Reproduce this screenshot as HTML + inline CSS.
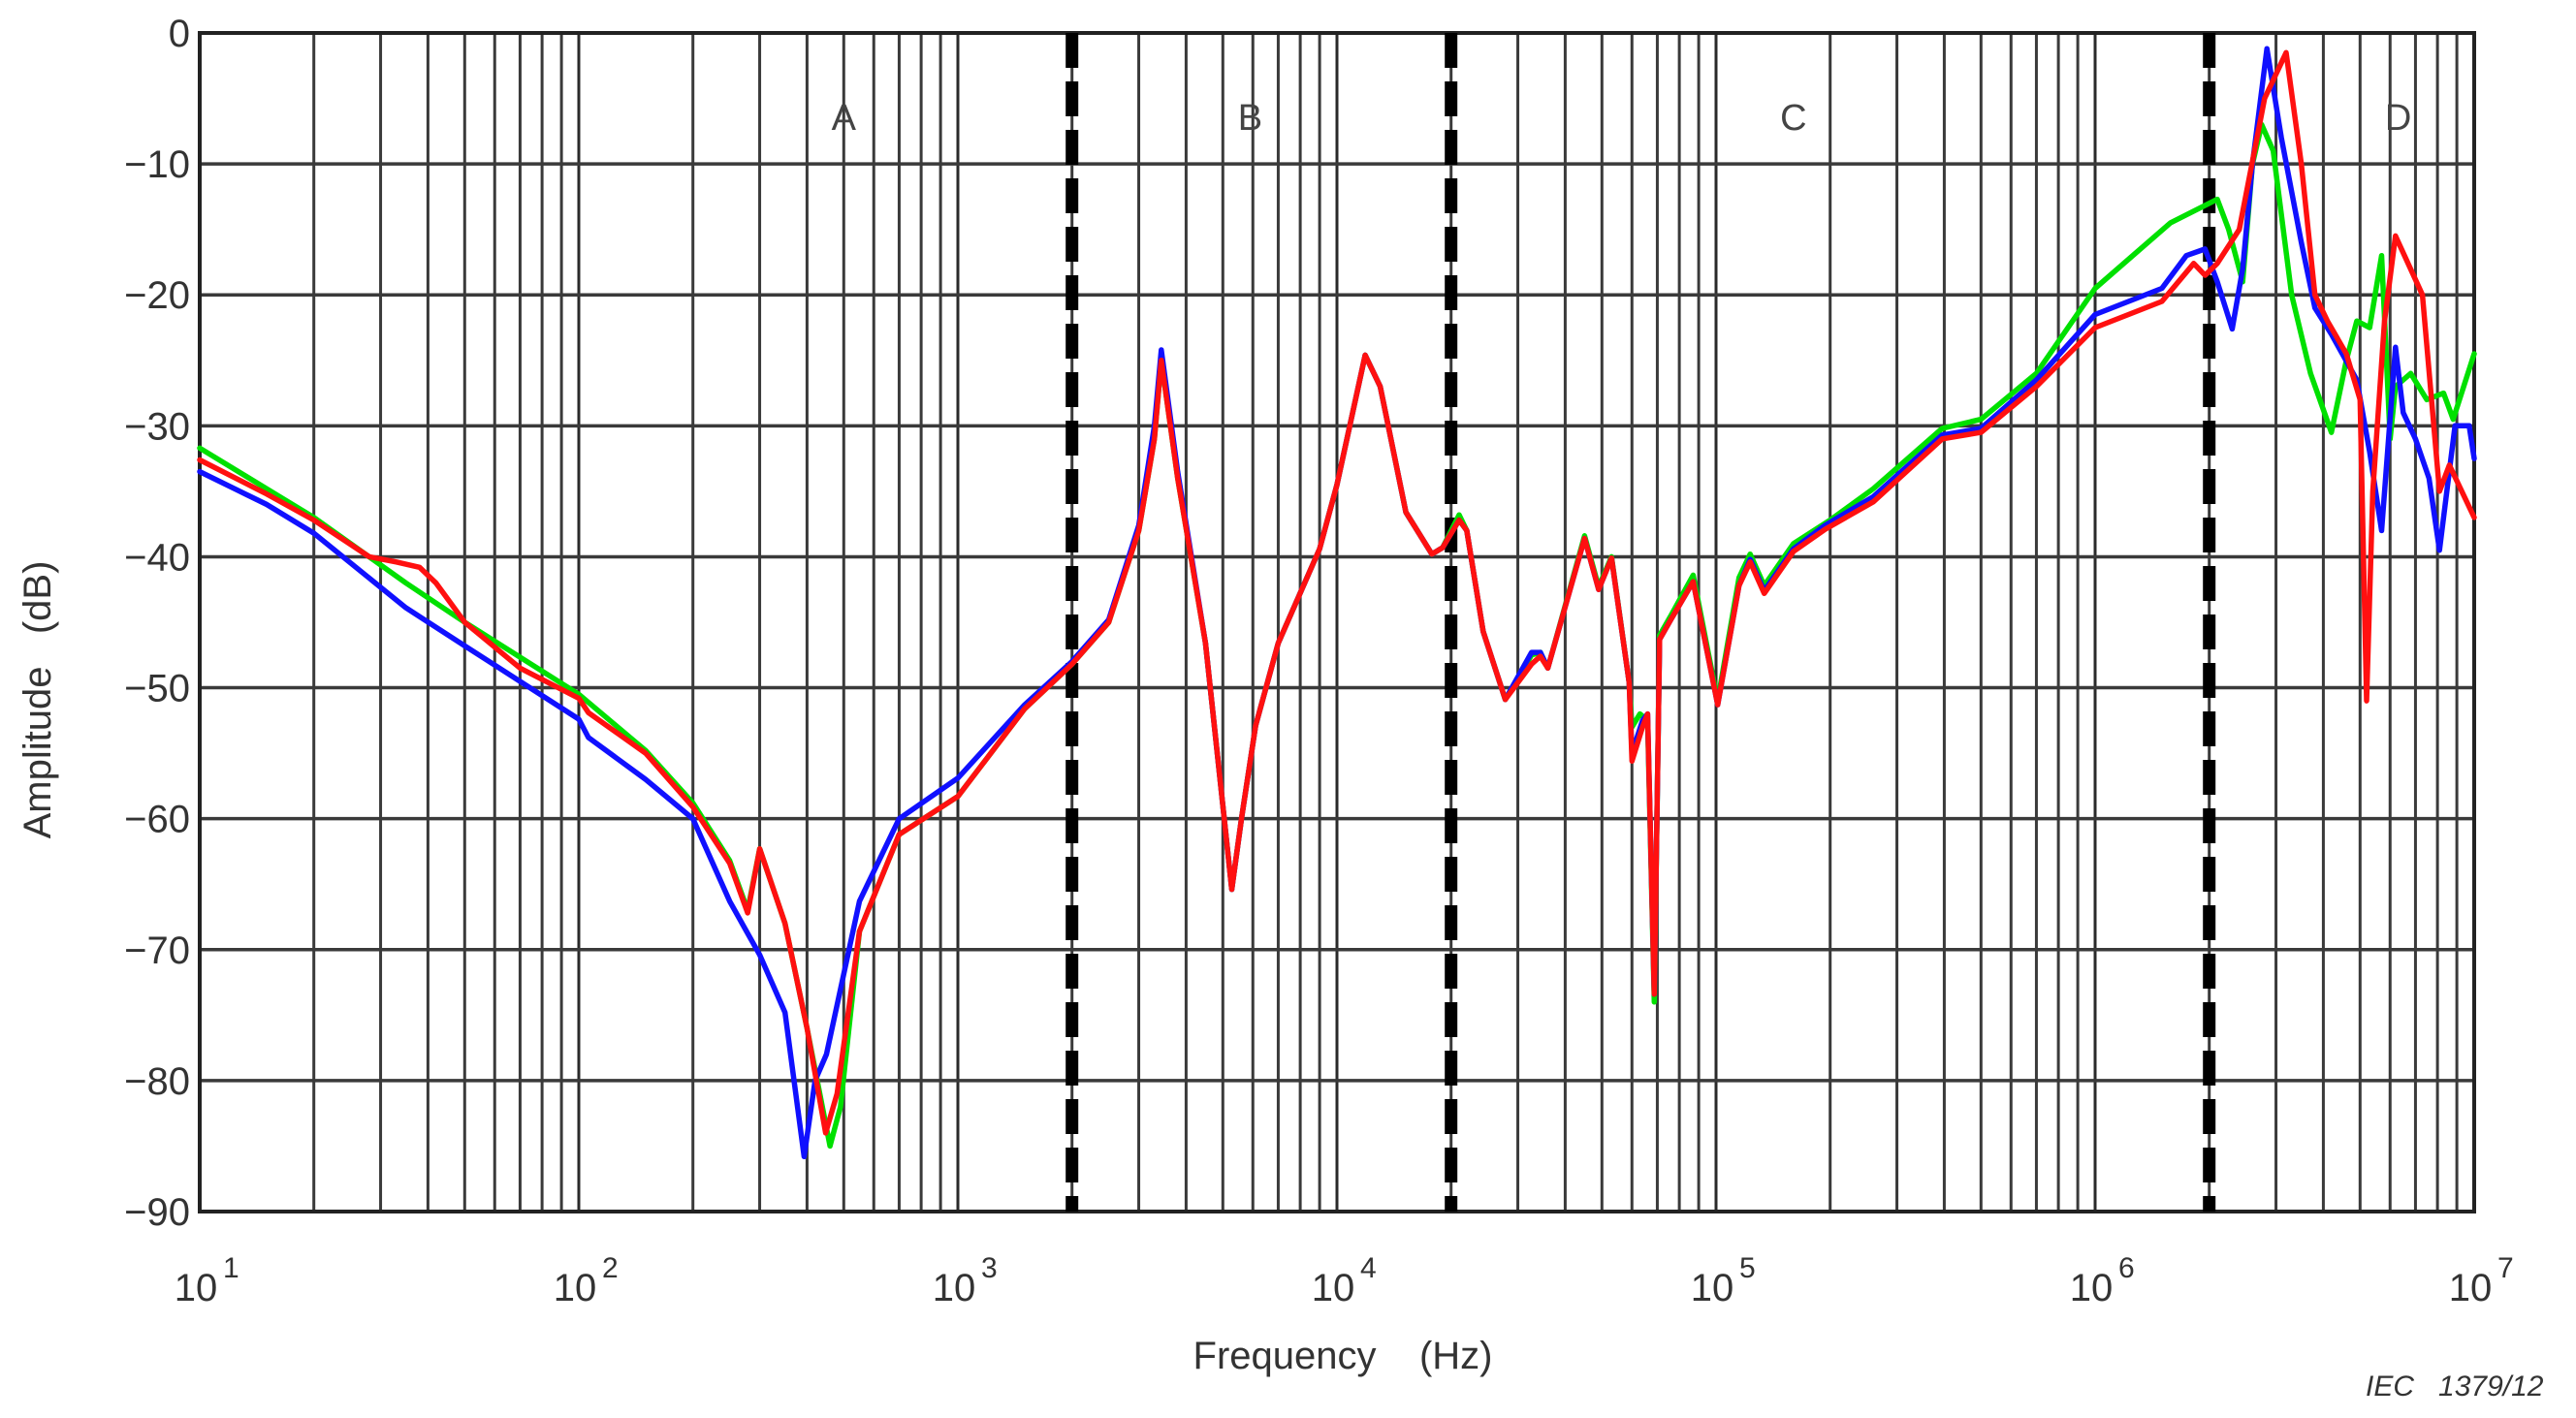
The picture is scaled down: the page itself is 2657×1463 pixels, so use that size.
<!DOCTYPE html>
<html><head><meta charset="utf-8"><style>
html,body{margin:0;padding:0;background:#fff;}
svg{display:block;font-family:"Liberation Sans",sans-serif;}
</style></head><body>
<svg id="chart" width="2657" height="1463" viewBox="0 0 2657 1463" xmlns="http://www.w3.org/2000/svg">
<g id="grid"></g>
<g id="dividers"></g>
<g id="series"></g>
<g id="labels"></g>
<text x="0" y="0" transform="translate(52,722) rotate(-90)" text-anchor="middle" font-size="40" fill="#333" xml:space="preserve">Amplitude   (dB)</text>
<text x="1385" y="1412" text-anchor="middle" font-size="40" fill="#333" xml:space="preserve">Frequency    (Hz)</text>
<text x="2440" y="1440" font-size="30" font-style="italic" fill="#333" xml:space="preserve">IEC   1379/12</text>
</svg>
<script>
const yTicks=[0,-10,-20,-30,-40,-50,-60,-70,-80,-90];
const decades=[1,2,3,4,5,6,7];
const regionBounds=[2000,20000,2000000];
const regionNames=["A","B","C","D"];
const regionLabelFreq=[500,5900,160000,6300000];
const redF=[10,15,20,28,33,38,42,50,70,100,106,150,200,250,279,300,350,400,448,480,550,700,1000,1500,2000,2500,3000,3300,3440,3800,4500,5000,5280,5600,6100,7000,9000,10000,11870,13000,15200,17800,19000,21000,22000,24300,27800,32600,34400,36000,45000,49000,53000,59000,60000,64000,66000,68700,71000,76000,87000,101000,115000,123000,134000,160000,194000,260000,395000,500000,700000,1e6,1.5e6,1.82e6,1.95e6,2.1e6,2.4e6,2.8e6,3.19e6,3.5e6,3.8e6,4.1e6,4.6e6,5e6,5.2e6,5.4e6,5.8e6,6.2e6,7.3e6,8.1e6,8.6e6,1e7];
const redV=[-32.6,-35.2,-37.2,-40,-40.4,-40.8,-42,-45,-48.5,-50.8,-51.9,-55,-59.1,-63.4,-67.2,-62.3,-68,-76,-84,-81,-68.6,-61.2,-58.3,-51.6,-48.2,-45,-38,-31,-25,-34,-46.6,-59,-65.4,-60,-52.9,-46.6,-39.4,-34.5,-24.6,-27,-36.6,-39.8,-39.3,-37.2,-38,-45.7,-50.9,-48.2,-47.6,-48.5,-38.6,-42.5,-40.1,-49.6,-55.6,-53,-52,-73.4,-46.3,-44.8,-41.9,-51.3,-42.2,-40.4,-42.8,-39.6,-37.9,-35.8,-31,-30.5,-27,-22.5,-20.5,-17.6,-18.5,-17.6,-15,-5,-1.5,-10,-20,-22,-24.5,-28,-51,-35,-22,-15.5,-20,-35,-33,-37];
const blueF=[10,15,20,35,50,100,106,150,200,250,300,350,393,420,450,550,700,1000,1500,2000,2500,3000,3300,3440,3800,4500,5000,5280,5600,6100,7000,9000,10000,11870,13000,15200,17800,19000,21000,22000,24300,27800,32600,34400,36000,45000,49000,53000,59000,60000,64000,66000,68700,71000,76000,87000,101000,115000,123000,134000,160000,194000,260000,395000,500000,700000,1e6,1.5e6,1.74e6,1.95e6,2.1e6,2.3e6,2.45e6,2.6e6,2.84e6,3.1e6,3.5e6,3.8e6,4.2e6,4.9e6,5.3e6,5.7e6,6.2e6,6.5e6,7e6,7.6e6,8.1e6,8.9e6,9.7e6,1e7];
const blueV=[-33.5,-36,-38.2,-43.9,-46.8,-52.4,-53.8,-57,-60,-66.3,-70.4,-74.8,-85.8,-80,-78,-66.3,-60,-56.9,-51.3,-48,-44.8,-37.6,-30,-24.2,-33.5,-46.6,-59,-65.4,-60,-52.9,-46.6,-39.4,-34.5,-24.6,-27,-36.6,-39.8,-39.3,-37.2,-38,-45.7,-50.9,-47.3,-47.3,-48.5,-38.6,-42.5,-40.1,-49.6,-55,-52.5,-52,-73.4,-46.3,-44.8,-41.9,-51.3,-42.2,-40.2,-42.6,-39.4,-37.6,-35.4,-30.7,-30.2,-26.5,-21.5,-19.5,-17,-16.5,-19,-22.6,-18,-10,-1.2,-8,-16,-21,-23,-26.5,-32,-38,-24,-29,-31,-34,-39.5,-30,-30,-32.5];
const greenF=[10,20,35,50,100,150,200,250,279,300,350,400,460,490,550,700,1000,1500,2000,2500,3000,3300,3440,3800,4500,5000,5280,5600,6100,7000,9000,10000,11870,13000,15200,17800,19000,21000,22000,24300,27800,32600,34400,36000,45000,49000,53000,59000,60000,63000,66000,68700,71000,76000,87000,101000,115000,123000,134000,160000,200000,260000,395000,500000,700000,1e6,1.58e6,2.1e6,2.25e6,2.45e6,2.6e6,2.75e6,2.95e6,3.3e6,3.7e6,4.2e6,4.6e6,4.9e6,5.3e6,5.7e6,6e6,6.2e6,6.8e6,7.5e6,8.3e6,8.8e6,1e7];
const greenV=[-31.7,-37,-42,-45,-50.5,-54.8,-58.8,-63.2,-67,-62.3,-68,-76,-85,-82,-68.6,-61.2,-58.3,-51.6,-48.2,-45,-38,-31,-25,-34,-46.6,-59,-65.4,-60,-52.9,-46.6,-39.4,-34.5,-24.6,-27,-36.6,-39.8,-39.3,-36.8,-38,-45.7,-50.9,-47.5,-47.3,-48.5,-38.4,-42.3,-40,-49.6,-53,-52,-52.5,-74,-46,-44.5,-41.4,-51,-41.6,-39.8,-42.2,-39,-37.2,-34.8,-30.2,-29.5,-26,-19.5,-14.5,-12.7,-15,-19,-10,-7,-9,-20,-26,-30.5,-25,-22,-22.5,-17,-31,-27,-26,-28,-27.5,-29.5,-24.5];

const NS="http://www.w3.org/2000/svg";
const L=206,R=2552,T=34,B=1250;
function xs(f){return L+(Math.log10(f)-1)/6*(R-L);}
function ys(v){return T+(0-v)/90*(B-T);}
function mk(tag,attrs,parent){const e=document.createElementNS(NS,tag);for(const k in attrs)e.setAttribute(k,attrs[k]);parent.appendChild(e);return e;}
const grid=document.getElementById('grid');
for(let d=1;d<7;d++){for(let m=2;m<=9;m++){const x=xs(m*Math.pow(10,d));
const ln=mk('line',{x1:x,x2:x,y1:T,y2:B,stroke:'#3a3a3a','stroke-width':3},grid);

}}
for(const d of decades){const x=xs(Math.pow(10,d));
const ln=mk('line',{x1:x,x2:x,y1:T,y2:B,stroke:'#2a2a2a','stroke-width':3},grid);

}
const lab=document.getElementById('labels');
for(const v of yTicks){const y=ys(v);
const ln=mk('line',{x1:L,x2:R,y1:y,y2:y,stroke:'#3a3a3a','stroke-width':3.5},grid);


const t=mk('text',{x:196,y:y+14,'text-anchor':'end','font-size':40,fill:'#333'},lab);
t.textContent=String(v).replace('-','\u2212');

}
for(const d of decades){const x=xs(Math.pow(10,d));
const t=mk('text',{x:x-4,y:1342,'text-anchor':'middle','font-size':40,fill:'#333'},lab);
t.textContent='10';


const s=mk('text',{x:x+24,y:1318,'font-size':30,fill:'#333'},lab);
s.textContent=String(d);

}
const frame=mk('rect',{x:L,y:T,width:R-L,height:B-T,fill:'none',stroke:'#222','stroke-width':4},grid);


const dv=document.getElementById('dividers');
for(const f of regionBounds){const x=xs(f);
const ln=mk('line',{x1:x,x2:x,y1:T,y2:B,stroke:'#000','stroke-width':13,'stroke-dasharray':'36 14'},dv);

}
regionNames.forEach((n,i)=>{const t=mk('text',{x:xs(regionLabelFreq[i]),y:134,'text-anchor':'middle','font-size':38,fill:'#444'},lab);
t.textContent=n;

});
const sg=document.getElementById('series');
function draw(F,V,color,name){let d='';F.forEach((f,i)=>{d+=(i?'L':'M')+xs(f).toFixed(1)+','+ys(V[i]).toFixed(1);});
const p=mk('path',{d:d,fill:'none',stroke:color,'stroke-width':5.5,'stroke-linejoin':'round','stroke-linecap':'round'},sg);

}
draw(greenF,greenV,'#00e000','green-series');
draw(blueF,blueV,'#1010ff','blue-series');
draw(redF,redV,'#ff1010','red-series');
</script>
</body></html>
